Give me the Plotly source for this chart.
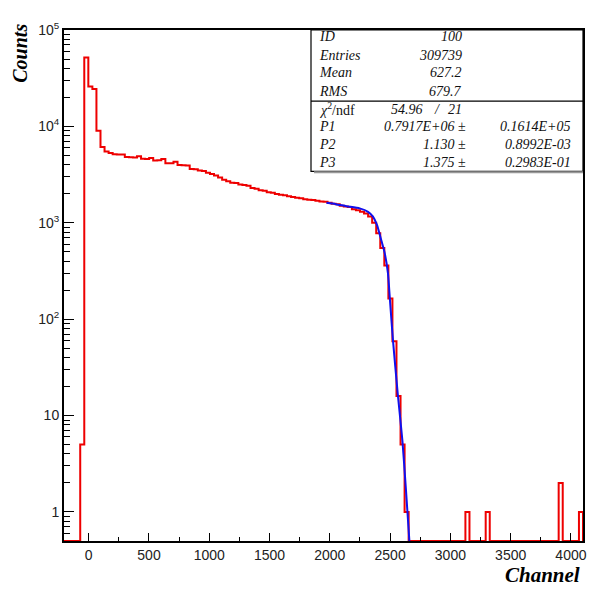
import numpy as np
import plotly.graph_objects as go

# ---------------- data ----------------
X_MIN, X_MAX, N_BINS = -205.0, 4100.0, 128
counts = [
    0, 0, 0, 0, 5, 52000, 26000, 24500, 9000, 6100, 5500,
    5300, 5150, 5100, 5100, 4800, 4780, 4770, 4890, 4620, 4590,
    4700, 4420, 4450, 4580, 4150, 4140, 4290, 3980, 3960, 3920,
    3620, 3600, 3480, 3450, 3300, 3200, 3100, 2950, 2800, 2700,
    2600, 2580, 2500, 2460, 2420, 2300, 2260, 2180, 2150, 2080,
    2050, 1990, 1950, 1930, 1880, 1850, 1820, 1800, 1760, 1730,
    1720, 1690, 1660, 1650, 1610, 1580, 1560, 1500, 1480, 1460,
    1380, 1350, 1300, 1250, 1160, 1000, 780,
    547, 361, 164, 59, 16, 5, 1,
    0, 0, 0, 0, 0, 0, 0, 0, 0, 0, 0, 0, 0, 0,
    1, 0, 0, 0, 0, 1,
    0, 0, 0, 0, 0, 0, 0, 0, 0, 0, 0, 0, 0, 0, 0, 0, 0,
    2, 0, 0, 0, 0, 1,
]

fit_x = [1972, 2050, 2137, 2248, 2317, 2358, 2391, 2428, 2455, 2482, 2500, 2524, 2563, 2602, 2630, 2660]
fit_y = [1610, 1560, 1487, 1410, 1300, 1157, 950, 650, 487, 300, 150, 60, 17, 5.5, 1.8, 0.5]

stats_labels = ["ID", "Entries", "Mean", "RMS"]
stats_values = ["100", "309739", "627.2", "679.7"]
chi2_text = ("54.96", "21")
par_names = ["P1", "P2", "P3"]
par_values = ["0.7917E+06", "1.130", "1.375"]
par_errors = ["0.1614E+05", "0.8992E-03", "0.2983E-01"]

y_tickvals = [1, 10, 100, 1000, 10000, 100000]
y_ticktext = ["1", "10", "10<sup>2</sup>", "10<sup>3</sup>", "10<sup>4</sup>", "10<sup>5</sup>"]

# ---------------- figure ----------------
OFF = 8  # default page body margin
W, H = 609 - OFF, 594 - OFF
L, T = 64 - OFF, 24 - OFF
pw, ph = 519, 517
R, B = W - L - pw, H - T - ph
FLOOR = 0.5

edges = np.linspace(X_MIN, X_MAX, N_BINS + 1)
yv = [max(c, FLOOR) for c in counts]
hx = [edges[0]] + list(edges) + [edges[-1]]
hy = [FLOOR] + yv + [yv[-1], FLOOR]

fig = go.Figure()
fig.add_trace(go.Scatter(x=hx, y=hy, mode="lines", line=dict(color="#ee0000", width=2, shape="hv"),
                         hoverinfo="skip", showlegend=False))
fig.add_trace(go.Scatter(x=fit_x, y=fit_y, mode="lines",
                         line=dict(color="#1010ee", width=2, shape="spline", smoothing=0.6),
                         hoverinfo="skip", showlegend=False))

# reference-pixel -> paper coordinates
def px(x):
    return (x - 64) / pw
def py(y):
    return 1 - (y - 24) / ph

serif = "Liberation Serif"
sans = "Liberation Sans"
ann = []
row_y = [31, 49.5, 67.5, 86, 104, 122, 140, 158]
for i, (lab, val) in enumerate(zip(stats_labels, stats_values)):
    ann.append(dict(x=px(317), y=py(row_y[i]), text=f"<i>{lab}</i>", xanchor="left", yanchor="middle"))
    ann.append(dict(x=px(464), y=py(row_y[i]), text=f"<i>{val}</i>", xanchor="right", yanchor="middle"))
ann.append(dict(x=px(317), y=py(row_y[4]),
                text="<i>χ</i><sup>2</sup>/ndf",
                xanchor="left", yanchor="middle"))
ann.append(dict(x=px(389), y=py(row_y[4]), text=f"<i>{chi2_text[0]}</i>", xanchor="left", yanchor="middle"))
ann.append(dict(x=px(437), y=py(row_y[4]), text="<i>/</i>", xanchor="center", yanchor="middle"))
ann.append(dict(x=px(464), y=py(row_y[4]), text=f"<i>{chi2_text[1]}</i>", xanchor="right", yanchor="middle"))
for i, (n, v, e) in enumerate(zip(par_names, par_values, par_errors)):
    yy = py(row_y[5 + i])
    ann.append(dict(x=px(317), y=yy, text=f"<i>{n}</i>", xanchor="left", yanchor="middle"))
    ann.append(dict(x=px(468), y=yy, text=f"<i>{v}</i> ±", xanchor="right", yanchor="middle"))
    ann.append(dict(x=px(573), y=yy, text=f"<i>{e}</i>", xanchor="right", yanchor="middle"))
for a in ann:
    a.update(xref="paper", yref="paper", showarrow=False, font=dict(family=serif, size=14, color="#111"))

ann.append(dict(x=px(20), y=py(48), xref="paper", yref="paper", showarrow=False, textangle=-90,
                text="<b><i>Counts</i></b>", xanchor="center", yanchor="middle",
                font=dict(family=serif, size=20, color="black")))
ann.append(dict(x=px(582), y=py(575), xref="paper", yref="paper", showarrow=False,
                text="<b><i>Channel</i></b>", xanchor="right", yanchor="middle",
                font=dict(family=serif, size=21, color="black")))

shapes = [
    dict(type="line", xref="paper", yref="paper", x0=px(314), x1=1, y0=py(168), y1=py(168),
         line=dict(color="#999", width=2)),
    dict(type="rect", xref="paper", yref="paper", x0=px(311), x1=1, y0=py(167), y1=1,
         line=dict(color="black", width=1.2), fillcolor="white", layer="below"),
    dict(type="line", xref="paper", yref="paper", x0=px(311), x1=1, y0=py(96), y1=py(96),
         line=dict(color="black", width=1.2)),
]

minor_y = [m * 10 ** d for d in range(-1, 5) for m in range(2, 10) if 0.5 <= m * 10 ** d <= 1e5]

fig.update_layout(
    width=W, height=H, autosize=False,
    margin=dict(l=L, r=R, t=T, b=B),
    paper_bgcolor="white", plot_bgcolor="white",
    annotations=ann, shapes=shapes,
    xaxis=dict(range=[X_MIN, X_MAX], showgrid=False, zeroline=False,
               showline=True, linecolor="black", linewidth=2, mirror=True,
               ticks="inside", ticklen=8, tickwidth=1, tickcolor="black",
               tickmode="linear", tick0=0, dtick=500,
               minor=dict(ticks="inside", ticklen=4, tickwidth=1, tickcolor="black", dtick=250, tick0=0),
               tickfont=dict(family=sans, size=14, color="#222")),
    yaxis=dict(type="log", range=[np.log10(FLOOR), 5], showgrid=False, zeroline=False,
               showline=True, linecolor="black", linewidth=2, mirror=True,
               ticks="inside", ticklen=10, tickwidth=1, tickcolor="black",
               tickmode="array", tickvals=y_tickvals, ticktext=y_ticktext,
               minor=dict(ticks="inside", ticklen=6, tickwidth=1, tickcolor="black",
                          tickmode="array", tickvals=minor_y),
               tickfont=dict(family=sans, size=14, color="#222")),
)

fig.write_html("out.html")
